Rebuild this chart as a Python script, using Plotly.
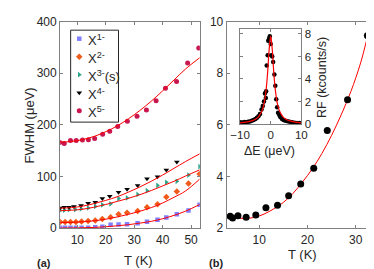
import plotly.graph_objects as go

W, H = 374, 269

# ---------------- Panel (a) data ----------------
T_X1 = [3.95, 5.7, 7.6, 9.5, 11.5, 13.8, 16.3, 18.8, 21.7, 24.5, 27.5, 31.2, 34.5, 38.2, 41.3, 45.0, 49.1, 53.0]
FW_X1 = [1, 1, 1, 1, 1, 1, 2, 3, 7, 7.5, 8, 10, 12.5, 16.4, 21, 27, 34.5, 45.5]
T_X2 = [3.95, 5.7, 7.6, 9.5, 11.5, 13.8, 16.3, 18.8, 21.7, 24.5, 27.5, 31.2, 34.5, 38.2, 41.3, 45.0, 49.1, 53.0]
FW_X2 = [12.1, 12.1, 12.1, 12.1, 13.3, 14, 15.2, 18.2, 21.2, 27.3, 30.3, 33.3, 40.6, 46.7, 60.6, 71, 86.7, 105]
T_X3 = [3.95, 5.4, 7.1, 9.3, 11.3, 13.8, 16.3, 18.8, 21.7, 24.5, 27.5, 31.2, 34.5, 38.2, 41.3, 45.0, 49.1, 53.0]
FW_X3 = [34.5, 35.1, 36.4, 36.4, 37.6, 39.4, 42.4, 45.5, 47.3, 57.6, 58.8, 65.5, 72.7, 83, 89, 91, 103, 119.5]
T_X4 = [3.95, 5.4, 7.1, 8.8, 11.3, 13.8, 16.3, 18.8, 21.4, 24.5, 27.5, 31.2, 34.5, 38.2, 41.3, 45.0]
FW_X4 = [39.4, 40.6, 40.6, 42.4, 44.2, 48.5, 50.3, 57.6, 61.8, 69.6, 75.8, 83, 95.8, 100, 113, 128.5]
T_X5 = [3.9, 5.4, 7.6, 9.6, 11.8, 13.9, 16.1, 18.9, 21.4, 24.2, 27.6, 31.0, 34.3, 37.7, 41.0, 44.9, 48.8, 52.7]
FW_X5 = [166, 164, 170, 170, 171, 171.5, 174, 182, 188, 197, 207, 217, 229, 247, 271, 284, 320, 349]

# fitted curves
T_FIT_A = [4, 8, 12, 16, 20, 24, 28, 32, 36, 40, 44, 48, 53]
FIT_X1 = [0.5, 0.7, 1.0, 1.7, 3.0, 4.8, 7.0, 10, 13.5, 18.5, 25, 33, 46]
FIT_X2 = [11, 11.5, 12.5, 14.5, 17.5, 22, 27, 33, 40, 49, 60, 72, 95]
FIT_X3 = [34, 35, 37, 41, 46, 52, 58, 65, 73, 82, 91, 101, 113]
FIT_X4 = [39, 40, 43, 48, 54, 61, 70, 80, 91, 103, 116, 129, 144]
FIT_X5 = [167, 168, 172, 178, 187, 198, 212, 228, 246, 266, 287, 308, 330]

SERIES_NAMES = ["X<sup>1-</sup>", "X<sup>2-</sup>", "X<sup>3-</sup>(s)", "X<sup>4-</sup>", "X<sup>5-</sup>"]

# ---------------- Panel (b) data ----------------
T_B = [4.0, 4.5, 5.6, 7.3, 9.3, 11.4, 13.8, 16.1, 18.6, 21.3, 24.1, 28.3, 32.4]
FW_B = [2.47, 2.40, 2.49, 2.43, 2.51, 2.80, 2.89, 3.26, 3.71, 4.32, 5.79, 6.98, 9.46]
T_FIT_B = [3.3, 5, 7, 9, 11, 13, 15, 17, 19, 21, 23, 25, 27, 29, 31, 32.4]
FIT_B = [2.42, 2.40, 2.38, 2.42, 2.55, 2.75, 3.0, 3.35, 3.8, 4.3, 4.9, 5.6, 6.4, 7.3, 8.4, 9.4]

# inset
DE_IN = [-9.8, -9.2, -8.6, -8.0, -7.4, -6.8, -6.2, -5.6, -5.0, -4.5, -4.0, -3.5, -3.0, -2.6, -2.2,
         -1.9, -1.6, -1.5, -1.3, -1.0, -0.8, -0.5, -0.3, 0.0, 0.2, 0.5, 0.8, 1.2, 1.5, 1.8, 2.1,
         2.4, 2.8, 3.2, 3.7, 4.2, 4.8, 5.5, 6.2, 7.0, 7.8, 8.6, 9.4]
RF_IN = [0.15, 0.12, 0.18, 0.15, 0.2, 0.22, 0.3, 0.35, 0.45, 0.55, 0.7, 0.9, 1.3, 1.6, 2.0,
         2.7, 2.3, 2.9, 5.2, 6.1, 7.4, 7.6, 7.8, 7.1, 6.1, 6.0, 5.5, 4.4, 3.4, 2.2, 1.5,
         1.0, 0.8, 0.6, 0.45, 0.35, 0.3, 0.25, 0.2, 0.15, 0.12, 0.1, 0.1]
DE_FIT = [-10, -8, -6, -5, -4, -3, -2.5, -2, -1.5, -1, -0.5, 0, 0.5, 1, 1.5, 2, 2.5, 3, 4, 5, 6, 8, 10]
RF_FIT = [0.11, 0.17, 0.30, 0.42, 0.64, 1.08, 1.46, 2.06, 3.04, 4.60, 6.64, 7.8, 6.64, 4.60, 3.04,
          2.06, 1.46, 1.08, 0.64, 0.42, 0.30, 0.17, 0.11]

# ---------------- styling ----------------
FONT = "Arial, Liberation Sans, sans-serif"
TXT = "#262626"
AX = "#808080"
RED = "#ff0000"
COLORS = ["#8080ff", "#f05a1a", "#2ca58a", "#000000", "#c8174f"]
SYMBOLS = ["square", "diamond", "triangle-right", "triangle-down", "circle"]
SIZES = [4.5, 5, 5, 5, 5]

def px_x(p):
    return p / W

def px_y(p):
    return 1 - p / H

fig = go.Figure()

data_a = [(T_X1, FW_X1), (T_X2, FW_X2), (T_X3, FW_X3), (T_X4, FW_X4), (T_X5, FW_X5)]
fits_a = [FIT_X1, FIT_X2, FIT_X3, FIT_X4, FIT_X5]
for i, (tx, fy) in enumerate(data_a):
    fig.add_trace(go.Scatter(x=tx, y=fy, mode="markers", xaxis="x", yaxis="y",
                             marker=dict(symbol=SYMBOLS[i], size=SIZES[i], color=COLORS[i],
                                         line=dict(width=0)),
                             showlegend=False))
for fit in fits_a:
    fig.add_trace(go.Scatter(x=T_FIT_A, y=fit, mode="lines", xaxis="x", yaxis="y",
                             line=dict(color=RED, width=1, shape="spline"), showlegend=False))

# panel b
fig.add_trace(go.Scatter(x=T_FIT_B, y=FIT_B, mode="lines", xaxis="x2", yaxis="y2",
                         line=dict(color=RED, width=1, shape="spline"), showlegend=False))
fig.add_trace(go.Scatter(x=T_B, y=FW_B, mode="markers", xaxis="x2", yaxis="y2",
                         marker=dict(symbol="circle", size=7, color="black"), showlegend=False))
# inset
fig.add_trace(go.Scatter(x=DE_IN, y=RF_IN, mode="markers", xaxis="x3", yaxis="y3",
                         marker=dict(symbol="circle", size=4.5, color="black"), showlegend=False))
fig.add_trace(go.Scatter(x=DE_FIT, y=RF_FIT, mode="lines", xaxis="x3", yaxis="y3",
                         line=dict(color=RED, width=1.2, shape="spline"), showlegend=False))

# legend keys on an invisible pixel-space overlay axis
LEG_X = 64
LEG_Y = [25, 44, 63, 82, 101]
for i in range(5):
    fig.add_trace(go.Scatter(x=[LEG_X], y=[LEG_Y[i]], mode="markers", xaxis="x4", yaxis="y4",
                             marker=dict(symbol=SYMBOLS[i], size=SIZES[i], color=COLORS[i]),
                             showlegend=False, hoverinfo="skip"))

def axis_style(fs):
    return dict(showline=True, linecolor=AX, linewidth=1, mirror="ticks", ticks="inside",
                ticklen=3, tickcolor=AX, showgrid=False, zeroline=False,
                tickfont=dict(family=FONT, size=fs, color=TXT))

fig.update_layout(
    width=W, height=H, margin=dict(l=0, r=0, t=0, b=0),
    paper_bgcolor="white", plot_bgcolor="rgba(0,0,0,0)",
    font=dict(family=FONT, size=12, color=TXT),
    showlegend=False,
    xaxis=dict(domain=[px_x(44), px_x(190)], range=[3.95, 53.1], tickvals=[10, 20, 30, 40, 50],
               anchor="y", **axis_style(12)),
    yaxis=dict(domain=[px_y(225), px_y(7)], range=[0, 400], tickvals=[0, 100, 200, 300, 400],
               anchor="x", **axis_style(12)),
    xaxis2=dict(domain=[px_x(218), px_x(369)], range=[3.27, 33.2], tickvals=[10, 20, 30],
                anchor="y2", **axis_style(12)),
    yaxis2=dict(domain=[px_y(225), px_y(7)], range=[2, 10], tickvals=[2, 4, 6, 8, 10],
                anchor="x2", **axis_style(12)),
    xaxis3=dict(domain=[px_x(232), px_x(296)], range=[-10, 10], tickvals=[-10, 0, 10],
                anchor="y3", **axis_style(11.5)),
    yaxis3=dict(domain=[px_y(115), px_y(15)], range=[0, 8.42], tickvals=[0, 2, 4, 6, 8],
                anchor="x3", side="right", **axis_style(11.5)),
    xaxis4=dict(domain=[0, 1], range=[0, W], visible=False, anchor="y4", fixedrange=True),
    yaxis4=dict(domain=[0, 1], range=[H, 0], visible=False, anchor="x4", fixedrange=True),
)

shapes = [dict(type="rect", xref="paper", yref="paper", x0=px_x(55), x1=px_x(105),
               y0=px_y(113), y1=px_y(16), line=dict(color="#262626", width=1),
               fillcolor="rgba(0,0,0,0)", layer="above")]
fig.update_layout(shapes=shapes)

ann = []
for i, name in enumerate(SERIES_NAMES):
    ann.append(dict(text=name, xref="paper", yref="paper", x=px_x(71), y=px_y(LEG_Y[i] + 1),
                    xanchor="left", yanchor="middle", showarrow=False,
                    font=dict(family=FONT, size=13, color=TXT)))
ann += [
    dict(text="FWHM (μeV)", xref="paper", yref="paper", x=px_x(12), y=px_y(116), textangle=-90,
         showarrow=False, xanchor="center", yanchor="middle", font=dict(family=FONT, size=13, color=TXT)),
    dict(text="T (K)", xref="paper", yref="paper", x=px_x(126), y=px_y(259), showarrow=False,
         xanchor="center", yanchor="middle", font=dict(family=FONT, size=13, color=TXT)),
    dict(text="T (K)", xref="paper", yref="paper", x=px_x(297), y=px_y(253), showarrow=False,
         xanchor="center", yanchor="middle", font=dict(family=FONT, size=13, color=TXT)),
    dict(text="<b>(a)</b>", xref="paper", yref="paper", x=px_x(27), y=px_y(262), showarrow=False,
         xanchor="center", yanchor="middle", font=dict(family=FONT, size=11, color=TXT)),
    dict(text="<b>(b)</b>", xref="paper", yref="paper", x=px_x(207), y=px_y(262), showarrow=False,
         xanchor="center", yanchor="middle", font=dict(family=FONT, size=11, color=TXT)),
    dict(text="ΔE (μeV)", xref="paper", yref="paper", x=px_x(263), y=px_y(143), showarrow=False,
         xanchor="center", yanchor="middle", font=dict(family=FONT, size=12.5, color=TXT)),
    dict(text="RF (kcounts/s)", xref="paper", yref="paper", x=px_x(317), y=px_y(66), textangle=-90,
         showarrow=False, xanchor="center", yanchor="middle", font=dict(family=FONT, size=12.5, color=TXT)),
]
fig.update_layout(annotations=ann)

fig.write_html("out.html")
